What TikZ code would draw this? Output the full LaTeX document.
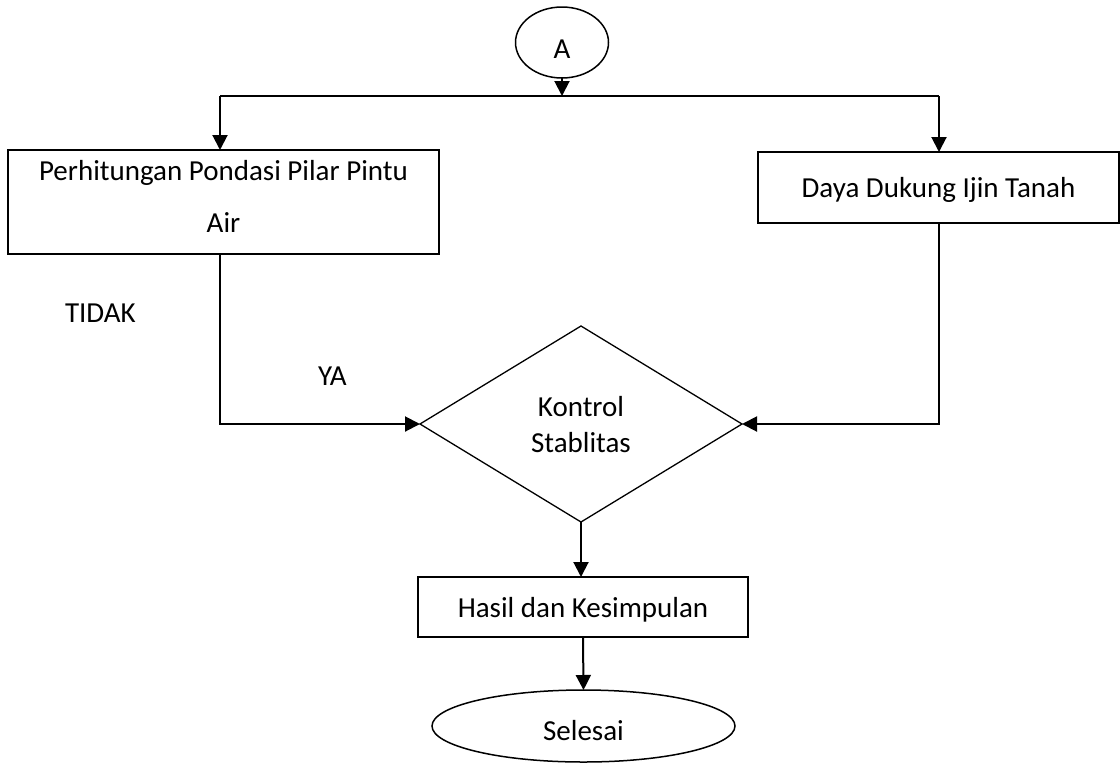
\documentclass[tikz,border=0pt]{standalone}
\usepackage{fontspec}
\setmainfont{Carlito}
\usetikzlibrary{arrows.meta,shapes.geometric}
\begin{document}
\begin{tikzpicture}[x=1pt,y=-1pt,
  every node/.style={font=\fontsize{29}{35}\selectfont, inner sep=0pt, outer sep=0pt},
  shapebox/.style={draw, rectangle, line width=1.5pt},
  ovalbox/.style={draw, ellipse, line width=1.5pt},
  decision/.style={draw, diamond, line width=1.3pt},
  conn/.style={line width=2pt},
  arr/.style={conn, -{Triangle[length=15pt,width=15pt]}},
  lbl/.style={anchor=base west}
]
\fill[white] (0,0) rectangle (1120,764);
\useasboundingbox (0,0) rectangle (1120,764);

% nodes
\node[ovalbox, minimum width=93pt, minimum height=71pt, text height=31pt, text depth=0pt] (A) at (562,42.5) {A};
\node[shapebox, minimum width=431pt, minimum height=104pt, text height=60pt, text depth=0pt] (P) at (223.5,202)
  {\fontsize{29}{52}\selectfont\begin{tabular}[b]{@{}c@{}}Perhitungan Pondasi Pilar Pintu\\Air\end{tabular}};
\node[shapebox, minimum width=361pt, minimum height=71pt, text height=19pt, text depth=0pt] (D) at (938.5,187.5) {Daya Dukung Ijin Tanah};
\node[decision, minimum width=322pt, minimum height=196pt, text height=56pt, text depth=0pt] (K) at (581,424)
  {\fontsize{29}{36}\selectfont\begin{tabular}[b]{@{}c@{}}Kontrol\\Stablitas\end{tabular}};
\node[shapebox, minimum width=330pt, minimum height=60pt, text height=20pt, text depth=0pt] (H) at (583,607) {Hasil dan Kesimpulan};
\node[ovalbox, minimum width=303pt, minimum height=72pt, text height=28pt, text depth=0pt] (S) at (583.5,726) {Selesai};

\node[lbl] (tidak) at (65,322) {TIDAK};
\node[lbl] (ya) at (318,385) {YA};

% junctions
\coordinate (jA) at (562,96);
\coordinate (jl) at (220,96);
\coordinate (jr) at (939,96);

% connectors
\draw[arr] (A.south) -- (jA);
\draw[conn] (jl) -- (jr);
\draw[arr] (jl) -- (jl |- P.north);
\draw[arr] (jr) -- (jr |- D.north);
\draw[arr] (jl |- P.south) |- (K.west);
\draw[arr] (jr |- D.south) |- (K.east);
\draw[arr] (K.south) -- (K.south |- H.north);
\draw[arr] (H.south) -- (S.north);
\end{tikzpicture}
\end{document}
